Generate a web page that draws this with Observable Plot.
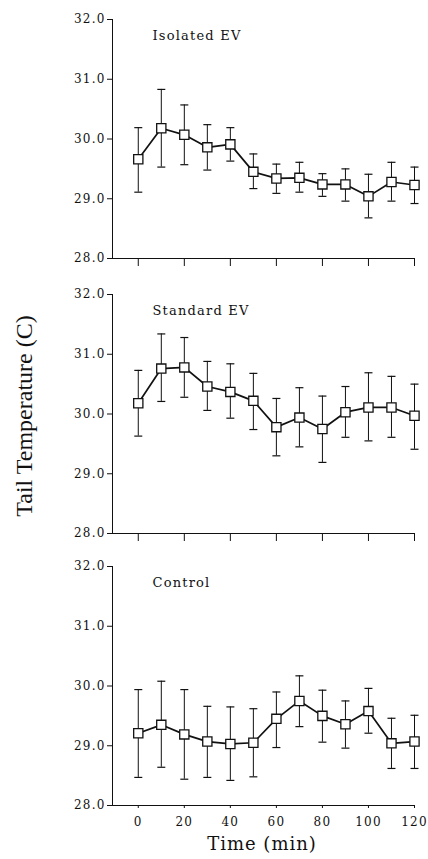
<!DOCTYPE html>
<html>
<head>
<meta charset="utf-8">
<script src="https://cdn.jsdelivr.net/npm/d3@7"></script>
<script src="https://cdn.jsdelivr.net/npm/@observablehq/plot@0.6"></script>
<style>
  html, body { margin: 0; padding: 0; background: #fff; }
  #wrap { position: relative; width: 428px; height: 859px; background: #fff; overflow: hidden; }
  #wrap svg { position: absolute; left: 0; }
  .ylab { position: absolute; left: 24px; top: 416px; transform: translate(-50%, -50%) rotate(-90deg);
          white-space: nowrap; font-family: "Liberation Serif", serif; font-size: 24px; color: #111; }
  .xlab { position: absolute; left: 262px; top: 843px; transform: translate(-50%, -50%);
          white-space: nowrap; font-family: "DejaVu Serif", serif; font-size: 18px; letter-spacing: 1px; color: #111; }
</style>
</head>
<body>
<div id="wrap"></div>
<script>
// ---- data ----
const time = [0, 10, 20, 30, 40, 50, 60, 70, 80, 90, 100, 110, 120];

const isolatedMean = [29.66, 30.18, 30.07, 29.86, 29.91, 29.45, 29.34, 29.35, 29.24, 29.24, 29.04, 29.28, 29.23];
const isolatedHigh = [30.19, 30.83, 30.57, 30.24, 30.19, 29.75, 29.58, 29.61, 29.42, 29.50, 29.41, 29.61, 29.53];
const isolatedLow  = [29.11, 29.53, 29.57, 29.48, 29.63, 29.17, 29.09, 29.11, 29.04, 28.96, 28.68, 28.96, 28.92];

const standardMean = [30.18, 30.76, 30.78, 30.46, 30.37, 30.22, 29.78, 29.94, 29.75, 30.03, 30.11, 30.11, 29.97];
const standardHigh = [30.73, 31.34, 31.28, 30.88, 30.84, 30.68, 30.26, 30.44, 30.30, 30.46, 30.69, 30.63, 30.50];
const standardLow  = [29.63, 30.21, 30.28, 30.06, 29.93, 29.74, 29.30, 29.45, 29.19, 29.61, 29.55, 29.61, 29.41];

const controlMean = [29.21, 29.35, 29.19, 29.07, 29.03, 29.05, 29.45, 29.75, 29.50, 29.36, 29.58, 29.04, 29.07];
const controlHigh = [29.94, 30.08, 29.94, 29.66, 29.65, 29.62, 29.90, 30.17, 29.93, 29.75, 29.96, 29.46, 29.51];
const controlLow  = [28.47, 28.64, 28.44, 28.47, 28.42, 28.48, 28.97, 29.32, 29.06, 28.96, 29.21, 28.62, 28.62];

const panelNames = ["Isolated EV", "Standard EV", "Control"];
const xTicks = [0, 20, 40, 60, 80, 100, 120];
const yTicks = [28, 29, 30, 31, 32];
const yLabel = "Tail Temperature (C)";
const xLabel = "Time (min)";

// ---- build ----
const series = [
  [isolatedMean, isolatedHigh, isolatedLow],
  [standardMean, standardHigh, standardLow],
  [controlMean, controlHigh, controlLow]
];

// horizontal cap symbol for error bars
const capSymbol = {
  draw(context, size) {
    const w = Math.sqrt(size / Math.PI);
    context.moveTo(-w, 0);
    context.lineTo(w, 0);
  }
};

const layout = [
  {top: 0,   height: 275, marginBottom: 17},
  {top: 275, height: 272, marginBottom: 14},
  {top: 547, height: 312, marginBottom: 54}
];

const wrap = document.getElementById("wrap");

series.forEach(([mean, hi, lo], i) => {
  const rows = time.map((t, j) => ({t, mean: mean[j], hi: hi[j], lo: lo[j]}));
  const last = i === series.length - 1;
  const svg = Plot.plot({
    width: 428,
    height: layout[i].height,
    marginLeft: 112,
    marginRight: 14,
    marginTop: 19,
    marginBottom: layout[i].marginBottom,
    style: {fontFamily: "DejaVu Serif", fontSize: "12px", letterSpacing: "1.2px", background: "transparent", color: "#111"},
    x: {
      domain: [-11.2, 120],
      ticks: xTicks,
      tickSize: last ? 3 : 8,
      tickPadding: 9,
      tickFormat: last ? d => String(d) : () => "",
      line: true,
      label: null
    },
    y: {
      domain: [28, 32],
      ticks: yTicks,
      tickSize: 5,
      tickPadding: 2,
      tickFormat: d3.format(".1f"),
      line: true,
      label: null
    },
    marks: [
      Plot.ruleX(rows, {x: "t", y1: "lo", y2: "hi", stroke: "#111", strokeWidth: 1}),
      Plot.dot(rows, {x: "t", y: "hi", symbol: capSymbol, r: 4, stroke: "#111", strokeWidth: 1.2, fill: "none"}),
      Plot.dot(rows, {x: "t", y: "lo", symbol: capSymbol, r: 4, stroke: "#111", strokeWidth: 1.2, fill: "none"}),
      Plot.line(rows, {x: "t", y: "mean", stroke: "#111", strokeWidth: 1.7}),
      Plot.dot(rows, {x: "t", y: "mean", symbol: "square", r: 5.2, fill: "white", stroke: "#111", strokeWidth: 1.3}),
      Plot.text([panelNames[i]], {frameAnchor: "top-left", dx: 40, dy: 11, lineAnchor: "top", textAnchor: "start",
        fontSize: 13, letterSpacing: "1px"})
    ]
  });
  svg.style.top = layout[i].top + "px";
  wrap.appendChild(svg);
});

const yl = document.createElement("div");
yl.className = "ylab";
yl.textContent = yLabel;
wrap.appendChild(yl);

const xl = document.createElement("div");
xl.className = "xlab";
xl.textContent = xLabel;
wrap.appendChild(xl);
</script>
</body>
</html>
